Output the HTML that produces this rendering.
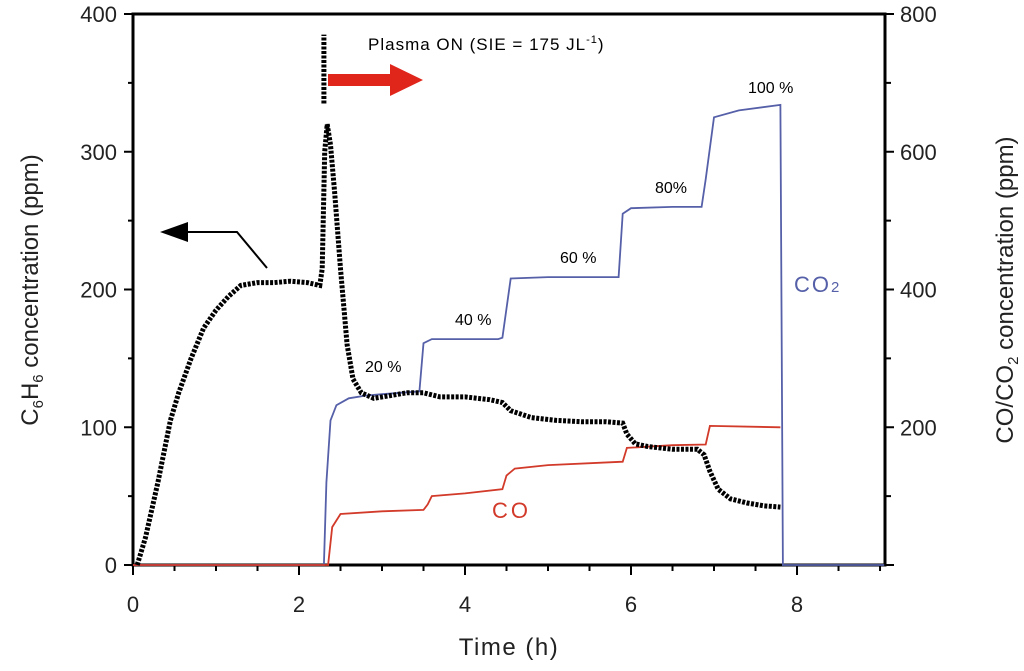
<!DOCTYPE html>
<html><head><meta charset="utf-8"><style>
body{margin:0;background:#fff;width:1024px;height:671px;overflow:hidden}
svg{display:block;font-family:"Liberation Sans",Arial,sans-serif}
</style></head><body>
<svg id="chart" width="1024" height="671" viewBox="0 0 1024 671"></svg>
<script>
const xTicks=[0,2,4,6,8];
const yLeftTicks=[0,100,200,300,400];
const yRightTicks=[200,400,600,800];
const c6h6T=[0.05,0.15,0.3,0.45,0.55,0.7,0.85,1.0,1.15,1.3,1.5,1.7,1.9,2.1,2.25,2.28,2.31,2.34,2.38,2.43,2.5,2.58,2.65,2.75,2.9,3.1,3.3,3.5,3.7,4.0,4.3,4.45,4.55,4.8,5.1,5.4,5.7,5.9,5.95,6.05,6.2,6.5,6.8,6.88,6.95,7.05,7.2,7.4,7.6,7.8];
const c6h6V=[0,20,60,105,125,150,172,185,195,203,205,205,206,205,203,215,300,320,305,270,215,160,135,125,121,123,125,125,122,122,120,118,112,107,105,104,104,103,95,88,86,84,84,80,68,55,48,45,43,42];
const co2T=[0,2.3,2.33,2.38,2.45,2.6,2.8,3.0,3.45,3.5,3.6,4.4,4.45,4.55,5.0,5.85,5.9,6.0,6.5,6.85,6.9,7.0,7.3,7.8,7.83,9.05];
const co2V=[0,0,120,210,232,242,246,248,252,322,328,328,330,416,418,418,510,518,520,520,560,650,660,668,0,0];
const coT=[0,2.35,2.4,2.5,3.0,3.5,3.55,3.6,4.0,4.45,4.5,4.6,5.0,5.9,5.95,6.5,6.9,6.95,7.8];
const coV=[0,0,55,74,78,80,88,100,104,110,130,140,145,150,170,174,175,202,200];
const X0=133,X1=885,XMAX=9.06,Y0=565,Y1=14;
const sx=v=>X0+(X1-X0)*v/XMAX, syL=v=>Y0-(Y0-Y1)*v/400, syR=v=>Y0-(Y0-Y1)*v/800;
const svg=document.getElementById('chart');const NS='http://www.w3.org/2000/svg';
function mk(tag,a,txt){const e=document.createElementNS(NS,tag);for(const k in a)e.setAttribute(k,a[k]);if(txt!==undefined)e.textContent=txt;svg.appendChild(e);return e;}
let e=mk('rect',{x:X0,y:Y1,width:X1-X0,height:Y0-Y1,fill:'none',stroke:'#000','stroke-width':3});

for(let v=0;v<=9;v+=0.5){const x=sx(v);const big=v%2===0;e=mk('line',{x1:x,x2:x,y1:Y0,y2:Y0+(big?10:6),stroke:'#000','stroke-width':2});}
xTicks.forEach(v=>{e=mk('text',{x:sx(v),y:612,'font-size':22,'text-anchor':'middle',fill:'#222'},v);});
for(let v=0;v<=400;v+=50){const y=syL(v);e=mk('line',{x1:X0,x2:X0-(v%100?5:9),y1:y,y2:y,stroke:'#000','stroke-width':2});}
yLeftTicks.forEach(v=>{e=mk('text',{x:117,y:syL(v)+8,'font-size':22,'text-anchor':'end',fill:'#222'},v);});
for(let v=0;v<=800;v+=100){const y=syR(v);e=mk('line',{x1:X1,x2:X1+(v%200?6:9),y1:y,y2:y,stroke:'#000','stroke-width':2});}
yRightTicks.forEach(v=>{e=mk('text',{x:900,y:syR(v)+8,'font-size':22,'text-anchor':'start',fill:'#222'},v);});
function pts(T,V,f){return T.map((t,i)=>sx(t).toFixed(1)+','+f(V[i]).toFixed(1)).join(' ');}
e=mk('polyline',{points:pts(co2T,co2V,syR),fill:'none',stroke:'#5560a8','stroke-width':1.8});

e=mk('polyline',{points:pts(coT,coV,syR),fill:'none',stroke:'#d23a2a','stroke-width':1.8});

e=mk('polyline',{points:pts(c6h6T,c6h6V,syL),fill:'none',stroke:'#000','stroke-width':5,'stroke-dasharray':'3 1.5'});

e=mk('line',{x1:sx(2.3),x2:sx(2.3),y1:syL(335),y2:syL(385),stroke:'#000','stroke-width':5,'stroke-dasharray':'3 1.5'});

e=mk('polygon',{points:'328,74 390,74 390,64 423,80 390,96 390,86 328,86',fill:'#e0251b'});

e=mk('polyline',{points:'267,268 237,232 185,232',fill:'none',stroke:'#000','stroke-width':2});

e=mk('polygon',{points:'160,232 188,222 188,242',fill:'#000'});

e=mk('text',{x:368,y:50,'font-size':17,'letter-spacing':1});
e.innerHTML='Plasma ON (SIE = 175 JL<tspan dy="-7" font-size="11">-1</tspan><tspan dy="7">)</tspan>';

[['20 %',365,372],['40 %',455,325],['60 %',560,263],['80%',655,193],['100 %',748,93]].forEach(a=>{e=mk('text',{x:a[1],y:a[2],'font-size':16},a[0]);});
e=mk('text',{x:794,y:292,'font-size':22,fill:'#5560a8','letter-spacing':2});e.innerHTML='CO<tspan font-size="15">2</tspan>';

e=mk('text',{x:492,y:518,'font-size':22,fill:'#d23a2a','letter-spacing':3},'CO');

e=mk('text',{x:509,y:655,'font-size':24,'text-anchor':'middle','letter-spacing':1.5,fill:'#222'},'Time (h)');

e=mk('text',{x:0,y:0,'font-size':24,'text-anchor':'middle',fill:'#222',transform:'translate(38,290) rotate(-90)'});
e.innerHTML='C<tspan font-size="15" dy="5">6</tspan><tspan dy="-5">H</tspan><tspan font-size="15" dy="5">6</tspan><tspan dy="-5"> concentration (ppm)</tspan>';

e=mk('text',{x:0,y:0,'font-size':24,'text-anchor':'middle',fill:'#222',transform:'translate(1013,290) rotate(-90)'});
e.innerHTML='CO/CO<tspan font-size="15" dy="5">2</tspan><tspan dy="-5"> concentration (ppm)</tspan>';

</script>
</body></html>
